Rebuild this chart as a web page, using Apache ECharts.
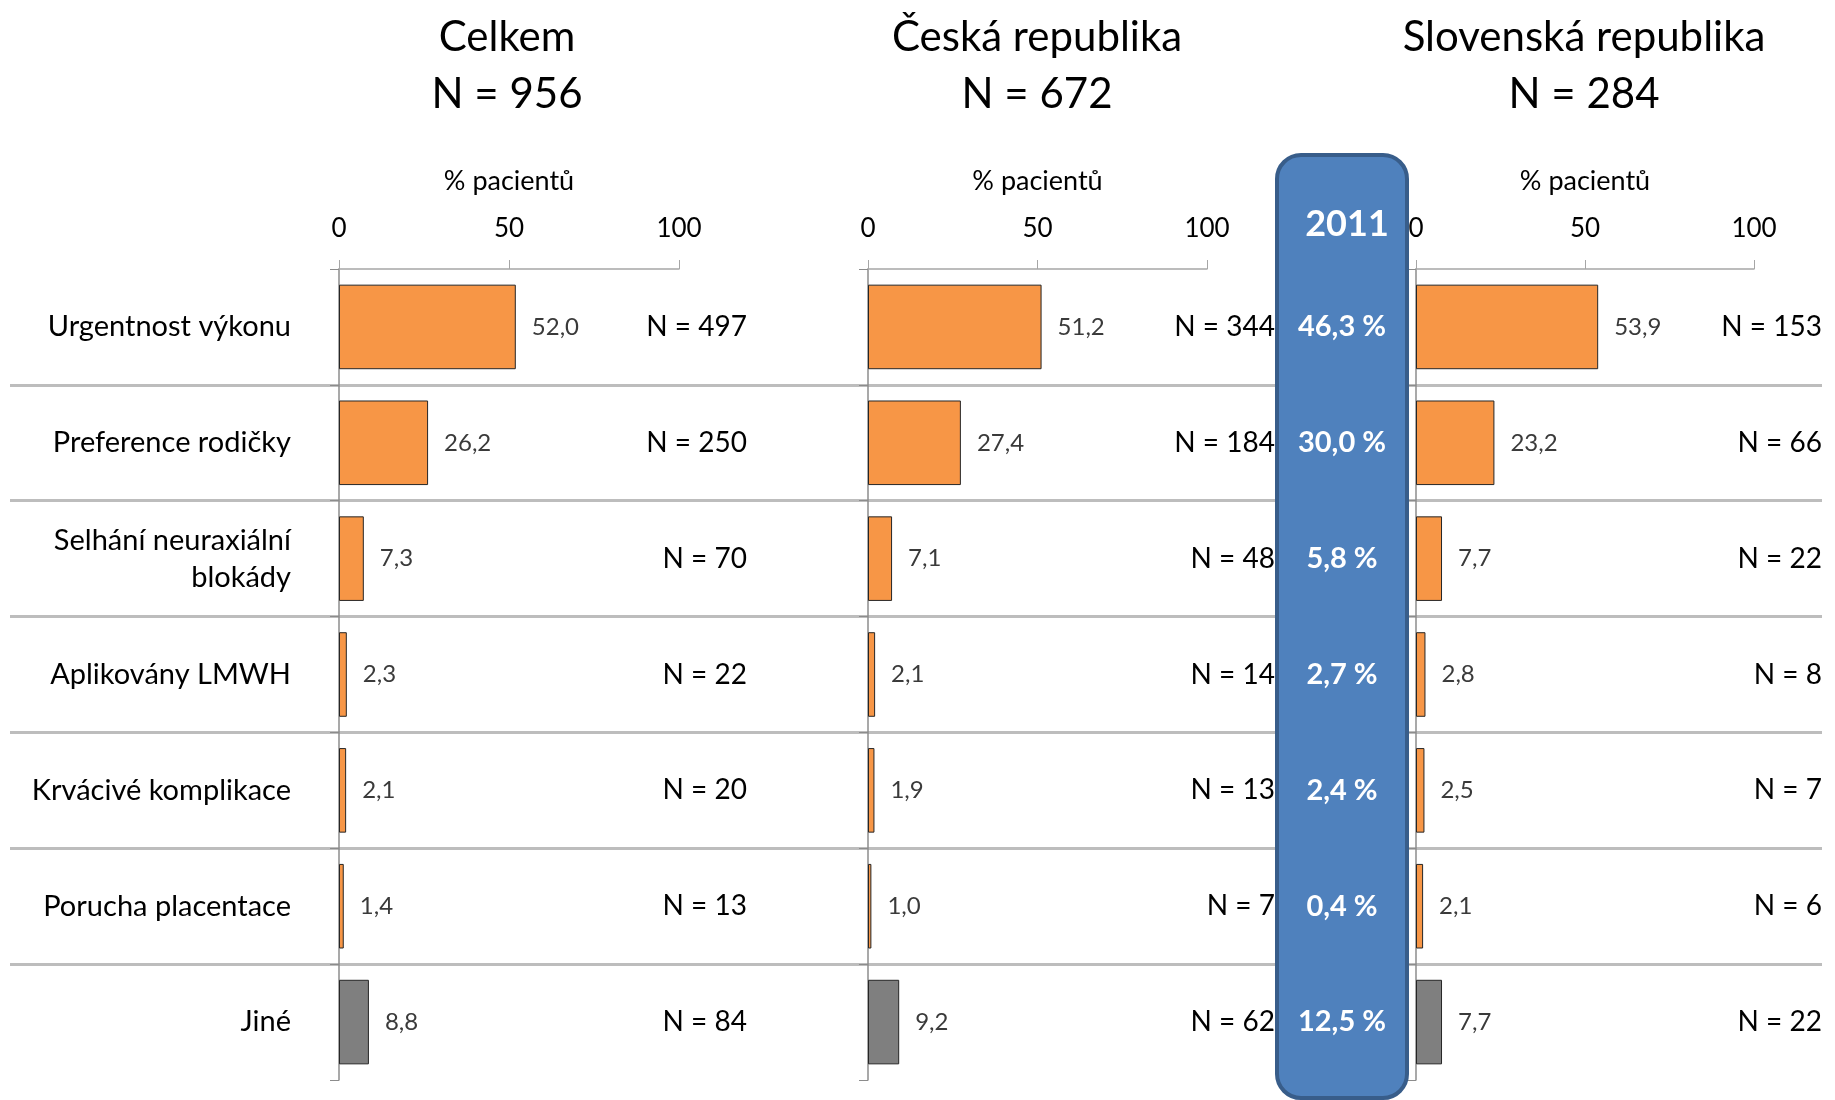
<!DOCTYPE html>
<html>
<head>
<meta charset="utf-8">
<script src="https://cdn.jsdelivr.net/npm/echarts@6/dist/echarts.min.js"></script>
<style>
  html, body { margin: 0; padding: 0; background: #fff; }
  #chart { width: 1835px; height: 1100px; }
</style>
</head>
<body>
<div id="chart"></div>
<script>
// data
const categories = ['Urgentnost výkonu', 'Preference rodičky', 'Selhání neuraxiální\nblokády', 'Aplikovány LMWH', 'Krvácivé komplikace', 'Porucha placentace', 'Jiné']
const panelTitles = ['Celkem', 'Česká republika', 'Slovenská republika']
const panelN = [956, 672, 284]
const totalPct = [52.0, 26.2, 7.3, 2.3, 2.1, 1.4, 8.8]
const totalN = [497, 250, 70, 22, 20, 13, 84]
const czPct = [51.2, 27.4, 7.1, 2.1, 1.9, 1.0, 9.2]
const czN = [344, 184, 48, 14, 13, 7, 62]
const skPct = [53.9, 23.2, 7.7, 2.8, 2.5, 2.1, 7.7]
const skN = [153, 66, 22, 8, 7, 6, 22]
const pct2011 = [46.3, 30.0, 5.8, 2.7, 2.4, 0.4, 12.5]
const yearLabel = '2011'
const axisName = '% pacientů'

const pctList = [totalPct, czPct, skPct]
const nList = [totalN, czN, skN]

const FONT = 'Lato'
const comma = v => v.toFixed(1).replace('.', ',')

// panel geometry
const panels = [
  { left: 339, width: 340, titleX: 502 },
  { left: 868, width: 339, titleX: 1032 },
  { left: 1416, width: 338, titleX: 1579 }
]
const gridTop = 269
const gridHeight = 811

const chart = echarts.init(document.getElementById('chart'))

const grid = []
const xAxis = []
const yAxis = []
const series = []
const title = []

panels.forEach((p, i) => {
  grid.push({ left: p.left, top: gridTop, width: p.width, height: gridHeight })
  title.push({
    text: panelTitles[i] + '\nN = ' + panelN[i],
    left: p.titleX,
    top: 4,
    textAlign: 'center',
    textStyle: { fontFamily: FONT, fontSize: 42, fontWeight: 'normal', color: '#000', lineHeight: 57 }
  })
  xAxis.push({
    type: 'value',
    gridIndex: i,
    position: 'top',
    min: 0,
    max: 100,
    interval: 50,
    name: axisName,
    nameLocation: 'middle',
    nameGap: 74,
    nameTextStyle: { fontFamily: FONT, fontSize: 27, color: '#000' },
    axisLine: { show: true, lineStyle: { color: '#a6a6a6', width: 1.5 } },
    axisTick: { show: true, length: 9, lineStyle: { color: '#a6a6a6' } },
    axisLabel: { margin: 27, fontFamily: FONT, fontSize: 26, color: '#000' },
    splitLine: { show: false }
  })
  // category axis
  yAxis.push({
    type: 'category',
    gridIndex: i,
    inverse: true,
    data: categories,
    axisLine: { show: true, lineStyle: { color: '#8c8c8c', width: 1.5 } },
    axisTick: { show: true, length: 9, lineStyle: { color: '#8c8c8c' } },
    axisLabel: {
      show: i === 0,
      margin: 48,
      fontFamily: FONT,
      fontSize: 29,
      lineHeight: 37,
      color: '#000'
    }
  })
  // N labels
  yAxis.push({
    type: 'category',
    gridIndex: i,
    inverse: true,
    position: 'right',
    data: nList[i].map(n => 'N = ' + n),
    axisLine: { show: false },
    axisTick: { show: false },
    axisLabel: { margin: 68, align: 'right', fontFamily: FONT, fontSize: 28, color: '#000' }
  })
  series.push({
    type: 'bar',
    xAxisIndex: i,
    yAxisIndex: i * 2,
    data: pctList[i],
    barCategoryGap: '27%',
    itemStyle: {
      color: params => params.dataIndex === categories.length - 1 ? '#7f7f7f' : '#f79646',
      borderColor: '#262626',
      borderWidth: 1
    },
    label: {
      show: true,
      position: 'right',
      distance: 16,
      formatter: params => comma(params.value),
      fontFamily: FONT,
      fontSize: 24,
      color: '#3a3a3a'
    }
  })
})

// 2011 values inside the blue box
yAxis.push({
  type: 'category',
  gridIndex: 1,
  inverse: true,
  position: 'right',
  z: 60,
  data: pct2011.map(v => comma(v) + ' %'),
  axisLine: { show: false },
  axisTick: { show: false },
  axisLabel: { margin: 135, align: 'center', fontFamily: FONT, fontSize: 29, fontWeight: 'bold', color: '#fff' }
})

// full width row separators
grid.push({ left: 10, right: 13, top: gridTop, height: gridHeight })
xAxis.push({ type: 'value', gridIndex: 3, show: false, min: 0, max: 1 })
const sepColors = []
for (let k = 0; k <= categories.length; k++) {
  sepColors.push(k === 0 || k === categories.length ? 'rgba(0,0,0,0)' : '#bdbdbd')
}
yAxis.push({
  type: 'value',
  gridIndex: 3,
  inverse: true,
  min: 0,
  max: categories.length,
  interval: 1,
  axisLine: { show: false },
  axisTick: { show: false },
  axisLabel: { show: false },
  splitLine: { show: true, lineStyle: { color: sepColors, width: 3 } }
})

title.push({
  text: yearLabel,
  left: 1342,
  top: 201,
  textAlign: 'center',
  z: 60,
  textStyle: { fontFamily: FONT, fontSize: 36, fontWeight: 'bold', color: '#fff' }
})

const option = {
  backgroundColor: '#fff',
  animation: false,
  title: title,
  grid: grid,
  xAxis: xAxis,
  yAxis: yAxis,
  series: series,
  graphic: [
    {
      type: 'rect',
      z: 50,
      shape: { x: 1277, y: 155, width: 130, height: 943, r: 24 },
      style: { fill: '#4f81bd', stroke: '#385d8a', lineWidth: 4 }
    }
  ]
}
chart.setOption(option)
</script>
</body>
</html>
